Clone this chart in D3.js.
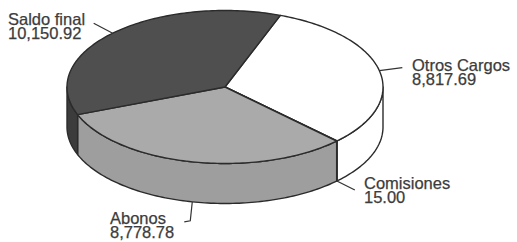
<!DOCTYPE html>
<html><head><meta charset="utf-8">
<script src="https://cdn.jsdelivr.net/npm/d3@7"></script>
<style>
html,body{margin:0;padding:0;background:#fff;}
svg{display:block;}
text{font-family:"Liberation Sans",Arial,sans-serif;font-size:16.5px;fill:#3c3c3c;stroke:#3c3c3c;stroke-width:0.25px;}
</style></head>
<body>
<svg id="chart" width="517" height="242"></svg>
<script>
const categories = ["Otros Cargos", "Comisiones", "Abonos", "Saldo final"];
const values = [8817.69, 15.00, 8778.78, 10150.92];
const valueLabels = ["8,817.69", "15.00", "8,778.78", "10,150.92"];
const topColors = ["#ffffff", "#ffffff", "#aaaaaa", "#4f4f4f"];
const sideColors = ["#ffffff", "#ffffff", "#9e9e9e", "#3c3c3c"];

const svg = d3.select("#chart");
const cx = 225, cy = 87, rx = 158, ry = 76.5, depth = 40;
const start = 20.5 * Math.PI / 180;

const pie = d3.pie().sort(null).value(d => d.v)
  .startAngle(start).endAngle(start + 2 * Math.PI);
const data = categories.map((c, i) => ({c, v: values[i], lab: valueLabels[i], top: topColors[i], side: sideColors[i]}));
const arcs = pie(data);

const px = a => cx + rx * Math.sin(a);
const py = (a, dz = 0) => cy - ry * Math.cos(a) + dz;

function arcPts(a0, a1, dz) {
  const n = Math.max(2, Math.ceil(Math.abs(a1 - a0) / 0.02));
  return d3.range(n + 1).map(i => {
    const a = a0 + (a1 - a0) * i / n;
    return [px(a), py(a, dz)];
  });
}

const stroke = "#2b2b2b", sw = 1.4;
const line = d3.line();

// sides
const gSide = svg.append("g");
arcs.forEach(d => {
  [[Math.PI / 2, 1.5 * Math.PI], [2.5 * Math.PI, 3.5 * Math.PI]].forEach(([v0, v1]) => {
    const s = Math.max(d.startAngle, v0), e = Math.min(d.endAngle, v1);
    if (e > s) {
      const pts = arcPts(s, e, 0).concat(arcPts(e, s, depth));
      gSide.append("path").attr("d", line(pts) + "Z")
        .attr("fill", d.data.side).attr("stroke", stroke).attr("stroke-width", sw)
        .attr("stroke-linejoin", "round");
    }
  });
});

// tops
const gTop = svg.append("g");
arcs.forEach(d => {
  const pts = [[cx, cy]].concat(arcPts(d.startAngle, d.endAngle, 0));
  gTop.append("path").attr("d", line(pts) + "Z")
    .attr("fill", d.data.top).attr("stroke", stroke).attr("stroke-width", sw)
    .attr("stroke-linejoin", "round");
});

// labels & leaders
const layout = {
  "Saldo final": {dx: -19, dy: -10, tx: 8, ty: 25},
  "Otros Cargos": {dx: 23, dy: -3, tx: 412, ty: 70.5},
  "Comisiones": {dx: 18, dy: 9, tx: 364, ty: 189},
  "Abonos": {dx: -2, dy: 19, hook: -6, tx: 110, ty: 224}
};
const gLab = svg.append("g");
arcs.forEach(d => {
  const L = layout[d.data.c];
  const m = (d.startAngle + d.endAngle) / 2;
  const mm = ((m % (2 * Math.PI)) + 2 * Math.PI) % (2 * Math.PI);
  const front = mm > Math.PI / 2 && mm < 1.5 * Math.PI;
  const x0 = px(m), y0 = py(m, front ? depth : 0);
  const pts = [[x0, y0], [x0 + L.dx, y0 + L.dy]];
  if (L.hook) pts.push([x0 + L.dx + L.hook, y0 + L.dy + 1]);
  gLab.append("path").attr("d", line(pts)).attr("fill", "none")
    .attr("stroke", "#333").attr("stroke-width", 1.2);
  const t = gLab.append("text").attr("x", L.tx).attr("y", L.ty);
  t.append("tspan").attr("x", L.tx).text(d.data.c);
  t.append("tspan").attr("x", L.tx).attr("dy", 14).text(d.data.lab);
});
</script>
</body></html>
